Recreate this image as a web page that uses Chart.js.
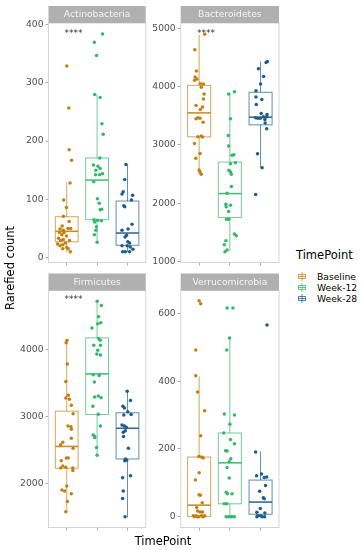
<!DOCTYPE html>
<html lang="en">
<head>
  <meta charset="UTF-8">
  <title>Rarefied count by TimePoint</title>
  <script src="https://cdn.jsdelivr.net/npm/chart.js"></script>
  <style>
    body {
      margin: 0;
      background: #fff;
      font-family: 'DejaVu Sans', sans-serif;
    }
    #fig {
      position: relative;
      width: 362px;
      height: 550px;
      overflow: hidden;
    }
    .panel { position: absolute; }
    #ytitle {
      position: absolute;
      left: 10px;
      top: 268px;
      transform: translate(-50%, -50%) rotate(-90deg);
      font-size: 11.5px;
      color: #000;
      white-space: nowrap;
    }
    #xtitle {
      position: absolute;
      left: 163px;
      top: 541px;
      transform: translate(-50%, -50%);
      font-size: 11.5px;
      color: #000;
    }
    #legend {
      position: absolute;
      left: 296px;
      top: 248px;
      color: #000;
    }
    #legend .ltitle {
      font-size: 11.5px;
      margin-bottom: 9px;
    }
    #legend .item {
      font-size: 9.2px;
      height: 11px;
      line-height: 11px;
      display: flex;
      align-items: center;
    }
    #legend svg { margin: 0 11px 0 2px; }
  </style>
</head>
<body>
  <div id="fig">
    <div class="panel" style="left:0;top:0"><canvas id="actino" width="150" height="270"></canvas></div>
    <div class="panel" style="left:150px;top:0"><canvas id="bacter" width="132" height="270"></canvas></div>
    <div class="panel" style="left:0;top:270px"><canvas id="firmic" width="150" height="265"></canvas></div>
    <div class="panel" style="left:150px;top:270px"><canvas id="verruco" width="132" height="265"></canvas></div>
    <div id="ytitle">Rarefied count</div>
    <div id="xtitle">TimePoint</div>
    <div id="legend"></div>
  </div>

  <script>
    const groups = ['Baseline', 'Week-12', 'Week-28'];
    const groupColors = ['#C47F12', '#33B86A', '#1C5C8F'];

    // ---- Actinobacteria ----
    const actinoBaseline = [329, 257, 185, 167, 128, 99, 86, 71, 62, 54, 49, 47, 50, 50, 43, 43, 39, 37, 33, 31, 29, 29, 23, 22, 25, 20, 17, 15, 10, 15];
    const actinoBaselineJit = [0, 0.07, 0.08, 0.16, 0.11, -0.10, -0.01, -0.11, 0.08, -0.15, -0.22, -0.11, 0.04, 0.13, -0.24, -0.09, -0.16, -0.01, -0.27, -0.11, -0.20, 0.09, -0.30, -0.13, -0.04, -0.22, 0, 0.05, 0.12, -0.13];
    const actinoWeek12 = [384, 370, 347, 280, 275, 230, 212, 171, 159, 157, 150, 153, 142, 142, 144, 130, 101, 93, 82, 83, 65, 64, 63, 53, 47, 39, 26, 61];
    const actinoWeek12Jit = [0.18, -0.09, -0.02, -0.08, 0.10, 0.16, 0.20, 0.09, -0.12, 0.03, -0.04, 0.10, -0.05, 0.08, 0.18, -0.11, 0.01, 0.07, 0.10, 0.15, -0.10, 0.02, 0.14, -0.02, -0.04, -0.09, 0, -0.08];
    const actinoWeek28 = [160, 134, 113, 109, 107, 89, 87, 99, 57, 49, 47, 38, 35, 27, 25, 20, 20, 18, 14, 10, 10, 10];
    const actinoWeek28Jit = [-0.05, -0.09, -0.14, -0.18, 0.17, -0.12, -0.09, 0.13, 0.15, 0.02, -0.18, -0.03, -0.08, 0.01, 0.07, -0.18, -0.01, 0.09, 0.18, -0.16, -0.07, 0.07];
    // [lower whisker, Q1, median, Q3, upper whisker]
    const actinoBoxes = [[9, 27, 45, 70, 129], [26, 65, 133, 171, 280], [9, 21, 42, 97, 160]];
    const actinoTicks = [0, 100, 200, 300, 400];

    // ---- Bacteroidetes ----
    const bacterBaseline = [4898, 4630, 4266, 4164, 4129, 4107, 4050, 4044, 3987, 3873, 3788, 3674, 3651, 3606, 3464, 3458, 3447, 3390, 3139, 3151, 3134, 3026, 2855, 2770, 2570, 2536, 2496];
    const bacterBaselineJit = [0.18, -0.14, -0.09, -0.13, -0.07, -0.15, 0.04, 0.14, 0.07, 0.16, 0.14, -0.10, 0.11, 0.04, -0.04, 0.03, -0.10, 0.13, -0.04, 0.07, 0.11, -0.15, 0.03, -0.11, 0, 0.03, 0.07];
    const bacterWeek12 = [3913, 3873, 3447, 3162, 2980, 2821, 2832, 2678, 2696, 2565, 2536, 2496, 2286, 2172, 1984, 1967, 1939, 1859, 1728, 1728, 1472, 1444, 1358, 1290, 1199, 1171];
    const bacterWeek12Jit = [0.15, -0.04, 0.02, -0.05, -0.04, 0.07, 0.13, 0.02, 0.18, -0.03, 0.02, 0.05, 0.05, -0.09, -0.13, 0.02, -0.12, -0.04, -0.11, -0.03, 0.15, 0.21, -0.13, -0.18, -0.09, -0.16];
    const bacterWeek28 = [4431, 4414, 4306, 4175, 4044, 3930, 3822, 3777, 3691, 3538, 3521, 3481, 3464, 3458, 3458, 3481, 3435, 3378, 3276, 2849, 2610, 2149];
    const bacterWeek28Jit = [0.22, 0.18, -0.07, 0.10, 0, -0.15, -0.15, 0.04, -0.14, 0.02, 0.21, 0.20, -0.16, -0.09, -0.01, 0.09, 0.14, 0.15, 0.20, -0.10, 0.05, -0.16];
    const bacterBoxes = [[2496, 3139, 3549, 4021, 4886], [1188, 1757, 2166, 2707, 3890], [2610, 3344, 3475, 3902, 4431]];
    const bacterTicks = [1000, 2000, 3000, 4000, 5000];

    // ---- Firmicutes ----
    const firmicBaseline = [4132, 4093, 3779, 3520, 3314, 3275, 3255, 3167, 3039, 2858, 2848, 2809, 2618, 2676, 2578, 2529, 2382, 2382, 2343, 2265, 2235, 2245, 2235, 2196, 1966, 1907, 1892, 1853, 1735, 1583];
    const firmicBaselineJit = [0.01, -0.02, 0.02, -0.03, 0.05, -0.03, 0.09, 0.15, 0.21, 0.04, 0.14, 0.15, -0.13, 0.15, -0.20, 0.21, -0.01, 0.05, -0.18, -0.13, -0.20, -0.03, 0.20, 0.20, 0, -0.16, -0.07, 0.15, 0.02, -0.03];
    const firmicWeek12 = [4711, 4647, 4480, 4392, 4377, 4314, 4157, 4132, 4059, 4059, 3985, 3926, 3912, 3618, 3608, 3510, 3289, 3304, 3279, 3152, 3034, 2858, 2725, 2701, 2686, 2539, 2422];
    const firmicWeek12Jit = [0, 0.14, 0.05, 0.12, 0.02, -0.17, 0.05, 0.10, -0.11, 0.11, 0.02, -0.01, 0.11, -0.13, 0.07, -0.09, -0.08, 0.04, 0.13, -0.14, 0.04, 0.11, -0.13, -0.08, -0.08, -0.02, 0];
    const firmicWeek28 = [3373, 3235, 3152, 3127, 3069, 3020, 3029, 2873, 2858, 2838, 2789, 2765, 2701, 2529, 2368, 2348, 2343, 2118, 2088, 1892, 1779, 1510];
    const firmicWeek28Jit = [-0.01, 0.10, -0.15, -0.10, 0.01, -0.12, 0.12, -0.18, -0.10, -0.04, -0.07, -0.14, -0.13, 0.03, -0.07, -0.03, -0.09, 0.10, -0.16, -0.14, -0.16, -0.08];
    const firmicBoxes = [[1583, 2230, 2554, 3078, 4147], [2422, 3029, 3632, 4167, 4711], [1500, 2368, 2824, 3054, 3373]];
    const firmicTicks = [2000, 3000, 4000];

    // ---- Verrucomicrobia ----
    const verrucoBaseline = [638, 629, 492, 416, 368, 313, 239, 178, 176, 173, 130, 108, 65, 63, 41, 17, 14, 14, 3, 3, 0, 3, 3, 0, 0, 0, 27];
    const verrucoBaselineJit = [0, 0.05, -0.11, -0.11, -0.05, 0.18, 0.05, -0.01, 0.08, 0.13, 0, -0.12, 0, 0.04, 0.10, -0.05, 0.03, 0.11, -0.19, -0.10, -0.01, 0.08, 0.18, -0.05, 0.13, -0.14, -0.08];
    const verrucoWeek12 = [616, 616, 528, 492, 303, 300, 273, 247, 228, 215, 195, 194, 171, 162, 145, 114, 72, 68, 68, 38, 38, 0, 0, 0, 0, 0];
    const verrucoWeek12Jit = [-0.09, 0.10, -0.01, -0.10, -0.18, 0.15, 0, -0.20, 0.02, 0.15, -0.14, -0.09, 0.03, -0.02, -0.09, -0.02, -0.12, -0.08, 0.07, -0.18, -0.10, -0.12, -0.04, 0.07, 0.15, 0.03];
    const verrucoWeek28 = [566, 191, 126, 121, 117, 116, 92, 75, 56, 53, 24, 13, 11, 3, 3, 0, 0, 0];
    const verrucoWeek28Jit = [0.21, -0.16, 0.03, -0.13, 0.20, 0.12, 0.16, -0.03, 0.09, 0.12, -0.01, -0.12, 0.14, -0.09, 0, 0.05, -0.12, 0.13];
    const verrucoBoxes = [[0, 0, 34, 176, 414], [0, 38, 159, 247, 528], [0, 7, 43, 108, 193]];
    const verrucoTicks = [0, 200, 400, 600];

    // significance labels ("****") per panel: y position in data units, null = none
    const sigLabels = ['****', '****', '****', null];
    const sigY = [385, 4915, 4730, null];

    // Draws the boxes, the facet strip, the panel border and the annotation
    const facetPlugin = {
      id: 'facet',
      beforeDatasetsDraw(chart) {
        const { ctx, scales: { x, y } } = chart;
        const opts = chart.options.plugins.facet;
        ctx.save();
        opts.boxes.forEach((b, g) => {
          const cx = x.getPixelForValue(g + 1);
          const x0 = x.getPixelForValue(g + 1 - 0.375);
          const x1 = x.getPixelForValue(g + 1 + 0.375);
          const [lo, q1, med, q3, hi] = b.map(v => y.getPixelForValue(v));
          ctx.strokeStyle = groupColors[g];
          ctx.globalAlpha = 0.7;
          ctx.lineWidth = 1;
          ctx.beginPath();
          ctx.moveTo(cx, hi); ctx.lineTo(cx, q3);
          ctx.moveTo(cx, q1); ctx.lineTo(cx, lo);
          ctx.stroke();
          ctx.strokeRect(x0, q3, x1 - x0, q1 - q3);
          ctx.globalAlpha = 0.9;
          ctx.lineWidth = 1.6;
          ctx.beginPath();
          ctx.moveTo(x0, med); ctx.lineTo(x1, med);
          ctx.stroke();
        });
        ctx.restore();
      },
      afterDraw(chart) {
        const { ctx, chartArea: a, scales: { x, y } } = chart;
        const opts = chart.options.plugins.facet;
        ctx.save();
        // panel border
        ctx.strokeStyle = '#d4d4d4';
        ctx.lineWidth = 1;
        ctx.strokeRect(a.left, a.top, a.right - a.left, a.bottom - a.top);
        // strip
        ctx.fillStyle = '#b0b0b0';
        ctx.fillRect(a.left, a.top - 17, a.right - a.left, 17);
        ctx.fillStyle = '#f5f5f5';
        ctx.font = '9.2px "DejaVu Sans"';
        ctx.textAlign = 'center';
        ctx.textBaseline = 'middle';
        ctx.fillText(opts.title, (a.left + a.right) / 2, a.top - 8);
        // significance
        if (opts.sig) {
          ctx.fillStyle = '#333';
          ctx.textAlign = 'left';
          ctx.font = '9px "DejaVu Sans"';
          ctx.fillText(opts.sig, x.getPixelForValue(0.93), y.getPixelForValue(opts.sigY));
        }
        ctx.restore();
      }
    };

    function makePanel(id, title, series, jitters, boxes, ticks, yMin, yMax, yAxisW, padTop, padRight, xAxisH, sig, sY) {
      const datasets = groups.map((name, g) => ({
        label: name,
        data: series[g].map((v, i) => ({ x: g + 1 + jitters[g][i], y: v })),
        backgroundColor: groupColors[g],
        borderWidth: 0,
        pointRadius: 1.75,
        pointHoverRadius: 1.75
      }));
      return new Chart(document.getElementById(id), {
        type: 'scatter',
        data: { datasets },
        plugins: [facetPlugin],
        options: {
          responsive: false,
          animation: false,
          devicePixelRatio: 1,
          layout: { padding: { top: padTop, right: padRight, left: 0, bottom: 0 } },
          plugins: {
            legend: { display: false },
            tooltip: { enabled: false },
            facet: { title, boxes, sig, sigY: sY }
          },
          scales: {
            x: {
              type: 'linear',
              min: 0.4,
              max: 3.6,
              afterBuildTicks: s => { s.ticks = [1, 2, 3].map(v => ({ value: v })); },
              afterFit: s => { s.height = xAxisH; },
              ticks: { display: false, autoSkip: false },
              grid: { drawOnChartArea: false, drawTicks: true, tickLength: 3, color: '#aaaaaa' },
              border: { display: false }
            },
            y: {
              type: 'linear',
              min: yMin,
              max: yMax,
              afterBuildTicks: s => { s.ticks = ticks.map(v => ({ value: v })); },
              afterFit: s => { s.width = yAxisW; },
              ticks: {
                autoSkip: false,
                padding: 2,
                color: '#4d4d4d',
                font: { family: 'DejaVu Sans', size: 9.2 },
                callback: v => String(v)
              },
              grid: { drawOnChartArea: false, drawTicks: true, tickLength: 3, color: '#aaaaaa' },
              border: { display: false }
            }
          }
        }
      });
    }

    makePanel('actino', 'Actinobacteria',
      [actinoBaseline, actinoWeek12, actinoWeek28],
      [actinoBaselineJit, actinoWeek12Jit, actinoWeek28Jit],
      actinoBoxes, actinoTicks, -8.6, 403, 48.5, 23, 4.3, 6.7, sigLabels[0], sigY[0]);

    makePanel('bacter', 'Bacteroidetes',
      [bacterBaseline, bacterWeek12, bacterWeek28],
      [bacterBaselineJit, bacterWeek12Jit, bacterWeek28Jit],
      bacterBoxes, bacterTicks, 985, 5090, 30.7, 23, 3, 6.7, sigLabels[1], sigY[1]);

    makePanel('firmic', 'Firmicutes',
      [firmicBaseline, firmicWeek12, firmicWeek28],
      [firmicBaselineJit, firmicWeek12Jit, firmicWeek28Jit],
      firmicBoxes, firmicTicks, 1350, 4871, 48.5, 20.5, 4.3, 5, sigLabels[2], sigY[2]);

    makePanel('verruco', 'Verrucomicrobia',
      [verrucoBaseline, verrucoWeek12, verrucoWeek28],
      [verrucoBaselineJit, verrucoWeek12Jit, verrucoWeek28Jit],
      verrucoBoxes, verrucoTicks, -32, 668, 30.7, 20.5, 3, 5, sigLabels[3], sigY[3]);

    // legend (boxplot key glyphs)
    const legend = document.getElementById('legend');
    legend.innerHTML = '<div class="ltitle">TimePoint</div>' + groups.map((name, g) =>
      `<div class="item"><svg width="8" height="9">` +
      `<g stroke="${groupColors[g]}" stroke-opacity="0.75" fill="none" stroke-width="1">` +
      `<line x1="4" y1="0" x2="4" y2="9"/><rect x="0.5" y="2.5" width="7" height="4"/>` +
      `<line x1="0.5" y1="4.5" x2="7.5" y2="4.5"/></g></svg>${name}</div>`).join('');
  </script>
</body>
</html>
